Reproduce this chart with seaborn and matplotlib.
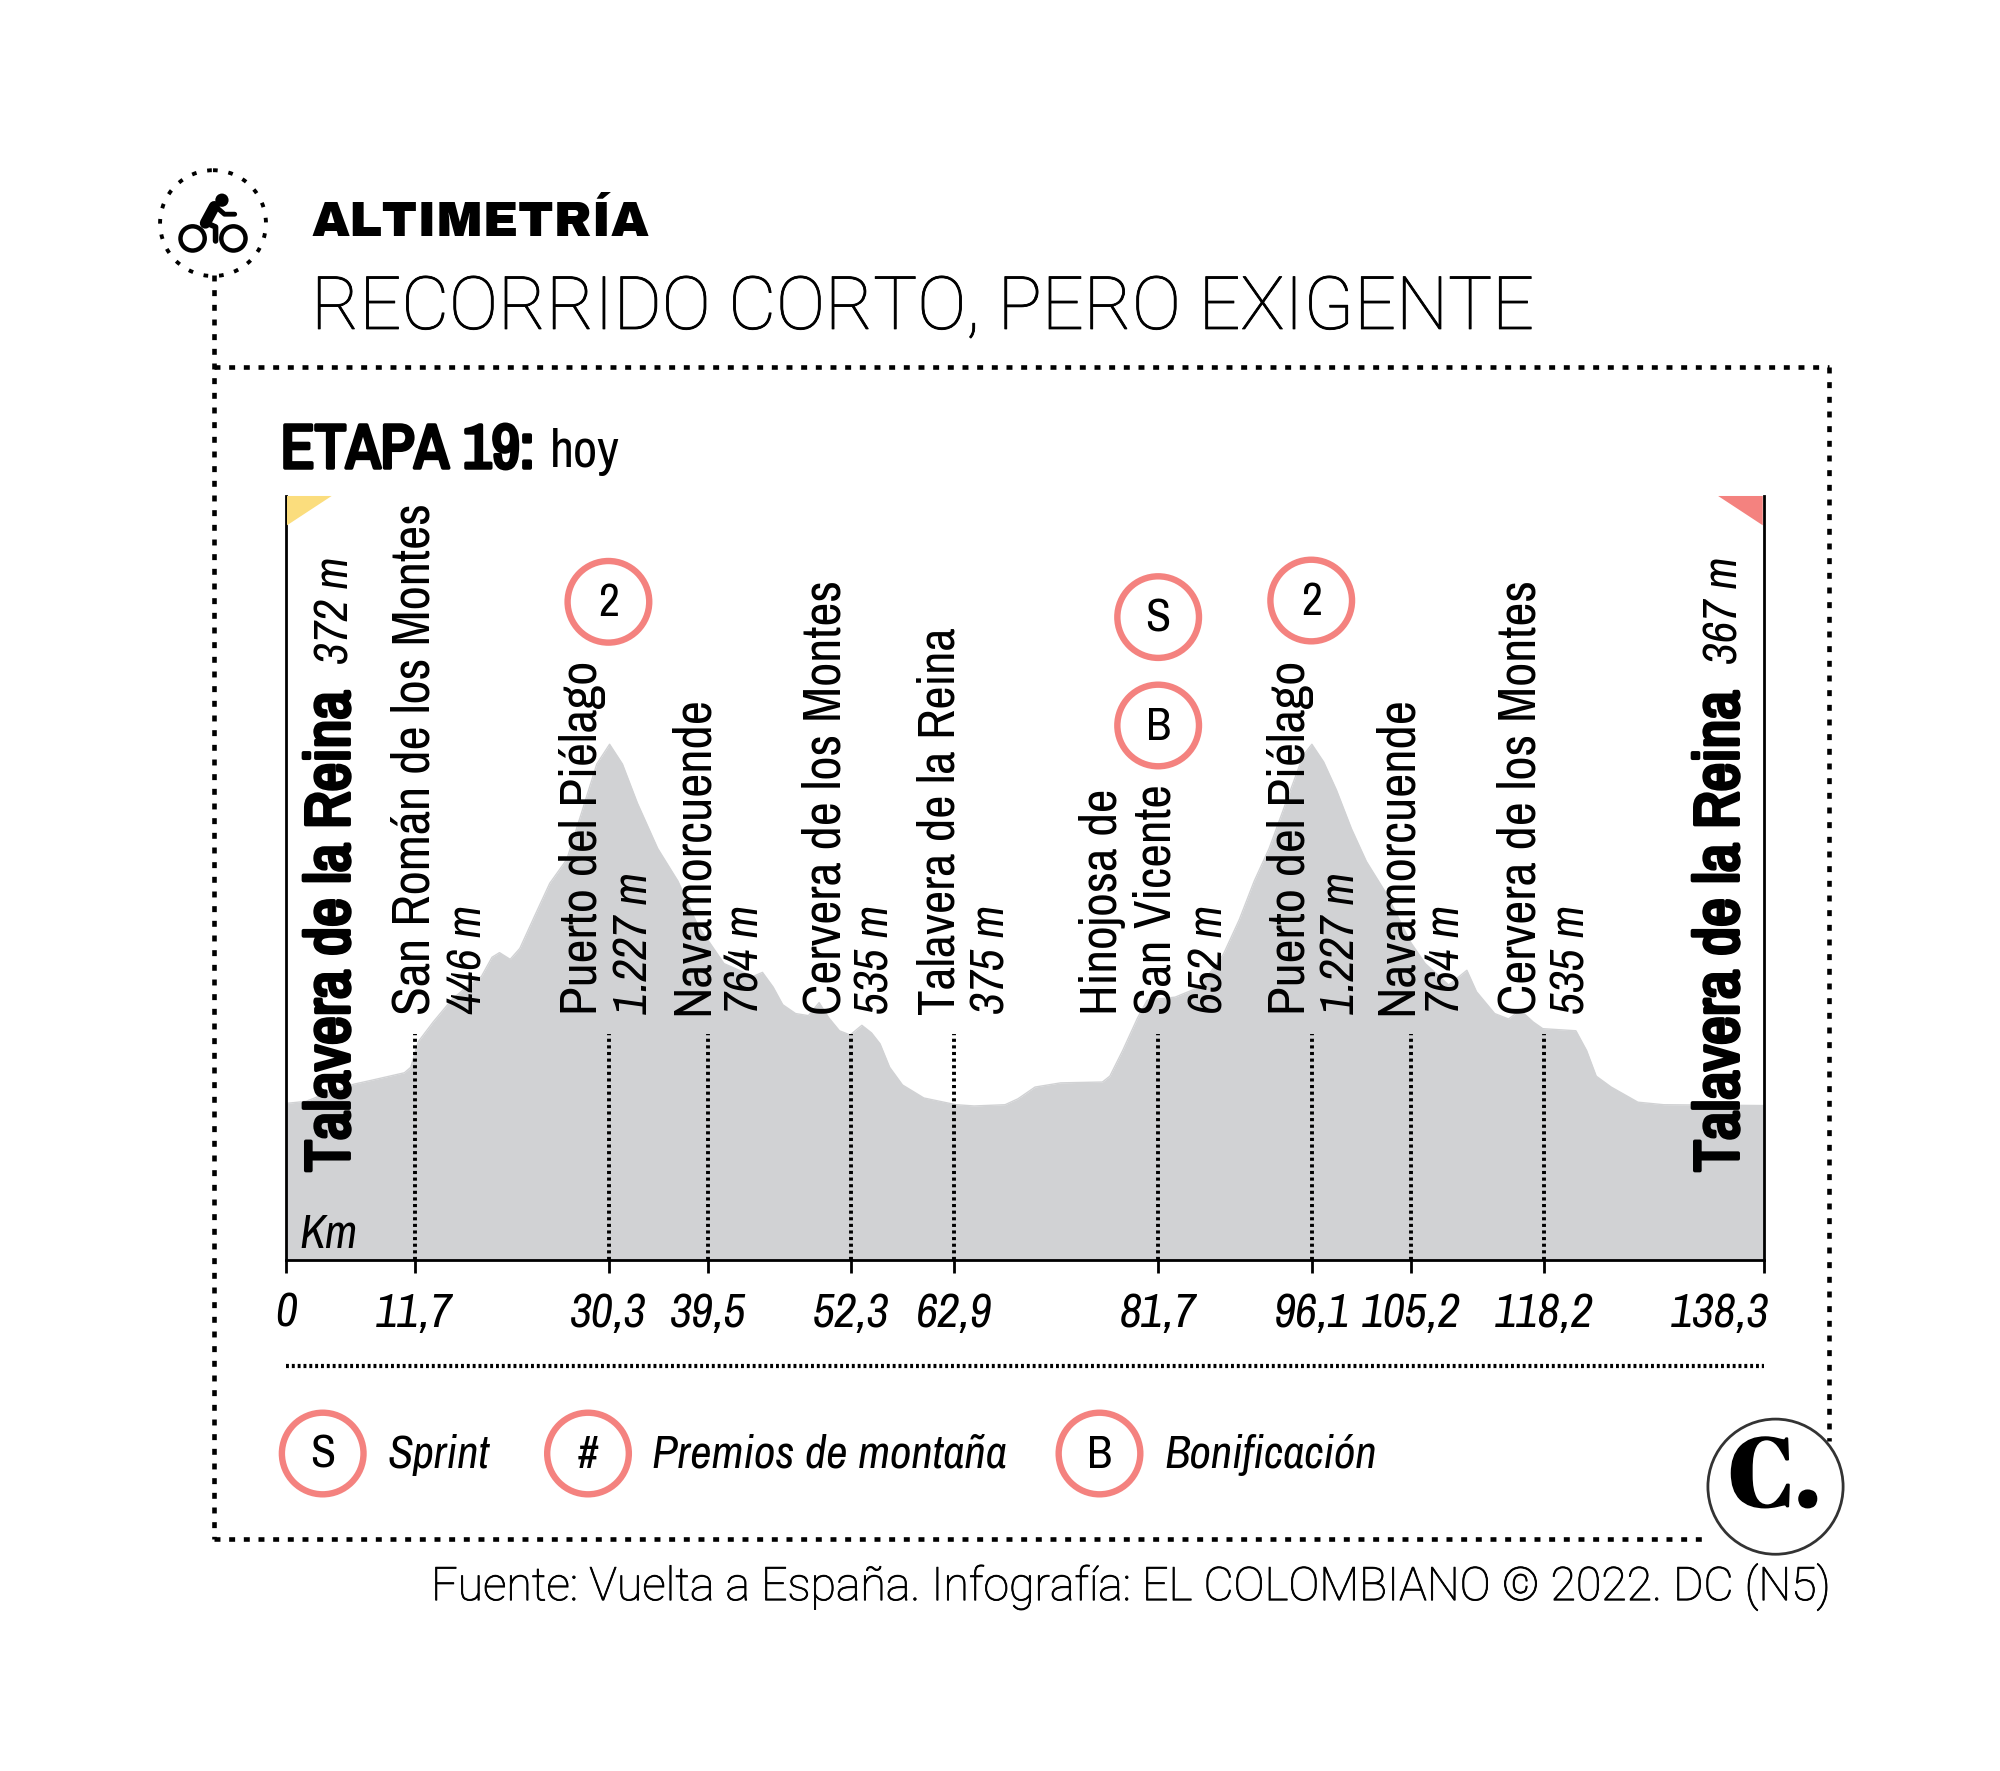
import matplotlib
matplotlib.use('Agg')
import matplotlib.pyplot as plt
import matplotlib.patheffects as pe
from matplotlib.patches import Circle, Polygon
from matplotlib.transforms import ScaledTranslation
import seaborn as sns

# elevation profile
km = [0, 1.9, 4, 6.4, 8, 11.1, 11.7, 12.4, 13.8, 15.5, 16.9, 18.3, 19.3, 20, 21, 21.9, 23.3, 24.7,
      26.3, 27.7, 29.1, 30.3, 31.5, 32.9, 34.8, 36.7, 38.6, 39.6, 41, 42.5, 43.7, 44.6, 45.6, 46.5,
      47.7, 48.9, 49.9, 50.8, 51.8, 52.8, 53.9, 54.8, 55.6, 56.5, 57.7, 59.7, 62.7, 64.4, 67.3, 68.5,
      70.1, 72.5, 76.4, 77.1, 78.3, 79.7, 80.6, 83.2, 85.5, 87.7, 89.2, 90.6, 92, 94, 95.2, 96,
      97.1, 98.3, 99.7, 101.1, 103, 105.2, 106.6, 108.8, 110.5, 111.4, 113.1, 114.4, 115.5, 116.7,
      117.6, 120.7, 121.7, 122.6, 124, 126.5, 128.9, 138.1, 138.3]
elev = [372, 377, 398, 418, 427, 445, 458, 519, 566, 618, 649, 674, 720, 731, 715, 741, 819, 896,
        953, 1066, 1180, 1227, 1180, 1087, 979, 901, 793, 757, 705, 688, 674, 684, 649, 607,
        586, 581, 612, 576, 545, 535, 558, 540, 514, 458, 416, 385, 369, 366, 369, 383,
        411, 421, 423, 437, 498, 576, 618, 625, 649, 726, 809, 901, 979, 1118, 1201, 1227,
        1185, 1118, 1026, 948, 870, 757, 705, 654, 689, 638, 586, 573, 594, 566,
        550, 545, 498, 437, 411, 375, 369, 367, 367]

# where the marks sit on the drawn axis, and what they are labelled
mark_km = [12.05, 30.2, 39.5, 52.9, 62.5, 81.65, 96, 105.3, 117.7]
tick_km = [0] + mark_km + [138.3]
tick_labels = ['0', '11,7', '30,3', '39,5', '52,3', '62,9', '81,7', '96,1', '105,2', '118,2', '138,3']

places = ['San Román de los Montes', 'Puerto del Piélago', 'Navamorcuende', 'Cervera de los Montes',
          'Talavera de la Reina', 'San Vicente', 'Puerto del Piélago', 'Navamorcuende', 'Cervera de los Montes']
heights = ['446 m', '1.227 m', '764 m', '535 m', '375 m', '652 m', '1.227 m', '764 m', '535 m']
place_x = [325, 457, 543, 647, 737, 906, 1012, 1095, 1192]
place_size = [38.2, 37.8, 38.2, 38, 36.7, 37.2, 37.8, 38.2, 38]
height_x = [367, 497, 584, 686, 777, 948, 1051, 1134, 1232]

badges = ['2', 'S', 'B', '2']
badge_xy = [(477, 472), (908, 484), (908, 569), (1028, 471)]
legend_keys = ['S', '#', 'B']
legend_names = ['Sprint', 'Premios de montaña', 'Bonificación']

NARROW = ['Archivo Narrow', 'Roboto', 'DejaVu Sans']
PINK = '#F4827F'
GREY = '#D1D2D4'

sns.set_style('white')
plt.rcParams['text.color'] = 'black'
fig = plt.figure(figsize=(20, 17.71), dpi=100)
heavy = [pe.withStroke(linewidth=2.6, foreground='black')]
firm = [pe.withStroke(linewidth=0.6, foreground='black')]

# profile axes, placed to line up with the frame
ax = fig.add_axes([224 / 1568, 1 - 988 / 1389, (1383 - 224) / 1568, (988 - 389) / 1389])
ax.patch.set_alpha(0)
ax.fill_between(km, elev, 0, color=GREY, lw=0)
sns.lineplot(x=km, y=elev, color=GREY, lw=1, ax=ax)
ax.set_xlim(0, 138.3)
ax.set_ylim(0, 1818)
ax.vlines(mark_km, 0, 537, color='black', lw=2.8, linestyles=(0, (0.8, 0.9)))
ax.set_yticks([])
ax.set_xticks(tick_km)
ax.set_xticklabels(tick_labels, family=NARROW, style='italic', fontsize=34.5)
ax.tick_params(axis='x', bottom=True, length=9, width=2, color='black', labelcolor='black', pad=14)
last = ax.get_xticklabels()[-1]
last.set_ha('right')
last.set_transform(last.get_transform() + ScaledTranslation(4 / 72, 0, fig.dpi_scale_trans))
ax.spines['top'].set_visible(False)
for s in ['left', 'right', 'bottom']:
    ax.spines[s].set_visible(True)
    ax.spines[s].set_color('black')
    ax.spines[s].set_linewidth(2)

# overlay in picture coordinates for the infographic furniture
d = fig.add_axes([0, 0, 1, 1], zorder=5)
d.set_xlim(0, 1568)
d.set_ylim(1389, 0)
d.axis('off')

dots = dict(color='black', lw=3.3, linestyle=(0, (1.3, 1.9)), dash_capstyle='butt')
d.plot([168, 168], [216, 1207], **dots)
d.plot([168, 1434], [288, 288], **dots)
d.plot([1434, 1434], [288, 1130], **dots)
d.plot([168, 1340], [1207, 1207], **dots)
d.plot([224, 1383], [1071, 1071], color='black', lw=3, linestyle=(0, (0.7, 0.7)))

# bike icon
d.add_patch(Circle((167, 175), 41.5, fill=False, ec='black', lw=2.8, ls=(0, (1.2, 2.8))))
d.add_patch(Circle((151, 187), 9.5, fill=False, ec='black', lw=3.2))
d.add_patch(Circle((183, 187), 9.5, fill=False, ec='black', lw=3.2))
d.add_patch(Circle((174, 157), 5.2, color='black', lw=0))
d.plot([161, 168], [175, 162], color='black', lw=8, solid_capstyle='round')
d.plot([168, 176, 184], [161, 168, 168], color='black', lw=3.5, solid_capstyle='round')
d.plot([160, 169, 169], [174, 178, 189], color='black', lw=4, solid_capstyle='round')

# heading
d.text(244, 185, 'ALTIMETRÍA', family=['Archivo Black', 'DejaVu Sans'], fontsize=35.3, va='baseline')
d.text(244, 258, 'RECORRIDO CORTO, PERO EXIGENTE', family='Roboto', weight='light', fontsize=53, va='baseline',
       path_effects=firm)
d.text(220, 367, 'ETAPA 19:', family=NARROW, weight='bold', fontsize=45, va='baseline', path_effects=heavy)
d.text(431, 366, 'hoy', family=NARROW, fontsize=38, va='baseline')

# flags
d.add_patch(Polygon([(225, 389), (260, 389), (225, 412)], color='#FBDD7D', lw=0))
d.add_patch(Polygon([(1382, 389), (1347, 389), (1382, 412)], color=PINK, lw=0))

# place names
for x, p, s in zip(place_x, places, place_size):
    d.text(x, 796, p, family=NARROW, fontsize=s, rotation=90, ha='center', va='bottom')
for x, h in zip(height_x, heights):
    d.text(x, 795, h, family=NARROW, style='italic', fontsize=34.5, rotation=90, ha='center', va='bottom')
d.text(864, 796, 'Hinojosa de', family=NARROW, fontsize=37.2, rotation=90, ha='center', va='bottom')

for x in [260, 1349]:
    d.text(x, 919, 'Talavera de la Reina', family=NARROW, weight='bold', fontsize=45.5, rotation=90,
           ha='center', va='bottom', path_effects=heavy)
d.text(263, 521, '372 m', family=NARROW, style='italic', fontsize=34, rotation=90, ha='center', va='bottom')
d.text(1352, 521, '367 m', family=NARROW, style='italic', fontsize=34, rotation=90, ha='center', va='bottom')
d.text(235, 979, 'Km', family=NARROW, style='italic', fontsize=34, va='baseline')

# badges on the profile and the legend
for b, (x, y) in zip(badges, badge_xy):
    d.add_patch(Circle((x, y), 32, fc='white', ec=PINK, lw=4.6))
    d.text(x, y + 1, b, family=NARROW, fontsize=33, ha='center', va='center')
for k, x in zip(legend_keys, [253, 461, 862]):
    d.add_patch(Circle((x, 1140), 32, fc='white', ec=PINK, lw=4.6))
    d.text(x, 1141, k, family=NARROW, fontsize=33, ha='center', va='center')
for n, x in zip(legend_names, [304, 511, 913]):
    d.text(x, 1151, n, family=NARROW, style='italic', fontsize=33.6, va='baseline')

# logo and source
d.add_patch(Circle((1392, 1166), 53, fc='white', ec='#333333', lw=2))
d.text(1391, 1162, 'C.', family=['Abril Fatface', 'Liberation Serif'], fontsize=70, ha='center', va='center',
       path_effects=[pe.withStroke(linewidth=1.5, foreground='black')])
d.text(1435, 1255, 'Fuente: Vuelta a España. Infografía: EL COLOMBIANO © 2022. DC (N5)', family='Roboto',
       weight='light', fontsize=33.4, ha='right', va='baseline', path_effects=firm)

plt.savefig('out.png', dpi=100)
